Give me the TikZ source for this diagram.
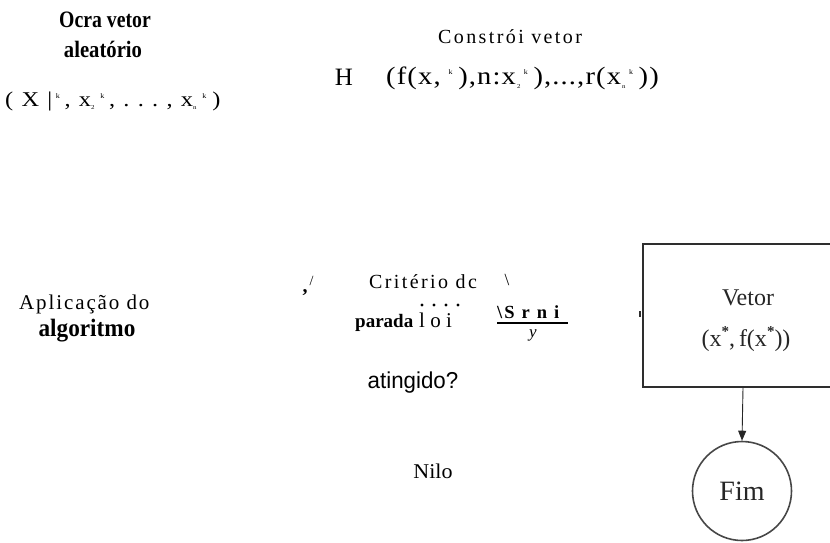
\documentclass[tikz,border=0pt]{standalone}
\usepackage{fontspec}
\setmainfont{Liberation Serif}
\newfontfamily\sansf{Liberation Sans}
\newfontfamily\lsA[LetterSpace=12]{Liberation Serif}
\newfontfamily\lsB[LetterSpace=9]{Liberation Serif}
\newfontfamily\lsC[LetterSpace=34]{Liberation Serif}
\newfontfamily\lsD[LetterSpace=4]{Liberation Serif}
\newfontfamily\lsE[LetterSpace=25]{Liberation Serif}
\usetikzlibrary{arrows.meta}
\newcommand{\upk}[3]{\hspace{#2}\raisebox{0.8ex}{\fontsize{7}{7}\selectfont\rmfamily #1}\hspace{#3}}
\newcommand{\dnk}[3]{\hspace{#2}\raisebox{-0.35ex}{\fontsize{6}{6}\selectfont\rmfamily #1}\hspace{#3}}
\newcommand{\myast}{\raisebox{0.95ex}{\fontsize{15}{15}\selectfont\bfseries *}}
\tikzset{
  lbl/.style={inner sep=0pt},
  frame/.style={draw=black!82, line width=1.8pt},
  dot/.style={circle, fill=black, inner sep=0pt, minimum size=3.4pt},
}
\begin{document}
\begin{tikzpicture}[x=1pt,y=1pt]
\useasboundingbox (0,0) rectangle (830,-542);
\clip (0,0) rectangle (830,-542);
% top-left
\node[lbl, font={\fontsize{23.5}{23.5}\selectfont\bfseries}, xscale=0.84] (t1) at (105,-20) {Ocra vetor};
\node[lbl, font={\fontsize{23.5}{23.5}\selectfont\bfseries}, xscale=0.88] (t2) at (103,-49) {aleatório};
\node[lbl, anchor=west, xscale=1.16, font={\fontsize{21}{21}\selectfont\lsC}] (t3) at (5,-101) {(X|\upk{k}{3pt}{4pt},x\dnk{2}{0pt}{3pt}\upk{k}{2pt}{4pt},...,x\dnk{n}{0pt}{3pt}\upk{k}{2pt}{5pt})};
% top-right
\node[lbl, anchor=west, font={\fontsize{20}{20}\selectfont\lsA}] (c1) at (438,-37) {Constrói vetor};
\node[lbl, font={\fontsize{25}{25}\selectfont}] (h) at (344,-77) {H};
\node[lbl, anchor=west, xscale=1.14, font={\fontsize{25}{25}\selectfont\lsD}] (c2) at (386,-78) {(f(x,\upk{k}{7pt}{5pt}),n:x\dnk{2}{1pt}{3pt}\upk{k}{0pt}{5pt}),...,r(x\dnk{n}{1pt}{3pt}\upk{k}{0pt}{5pt}))};
% middle-left
\node[lbl, anchor=west, font={\fontsize{21}{21}\selectfont\lsB}] (a1) at (19,-304) {Aplicação do};
\node[lbl, font={\fontsize{25}{25}\selectfont\bfseries}, xscale=0.93] (a2) at (87,-331) {algoritmo};
% decision fragments
\node[lbl, font={\fontsize{20}{20}\selectfont}] (q0) at (308,-286) {\textbf{,}\hspace{2pt}\raisebox{0.7ex}{\fontsize{14}{14}\selectfont /}};
\node[lbl, anchor=west, font={\fontsize{20}{20}\selectfont\lsA}] (q1) at (369,-282) {Critério dc};
\node[dot] (d1) at (422,-305) {};
\node[dot] (d2) at (434,-305) {};
\node[dot] (d3) at (446,-305) {};
\node[dot] (d4) at (458,-305) {};
\node[lbl, anchor=base west, font={\fontsize{19}{19}\selectfont\bfseries}] (q3) at (355,-327) {parada};
\node[lbl, anchor=base west, font={\fontsize{21}{21}\selectfont\lsE}] (q3b) at (419,-327) {loi};
\node[lbl, font={\fontsize{17}{17}\selectfont}] (q4) at (507,-280) {\textbackslash};
\node[lbl, anchor=base west, font={\fontsize{18.5}{18.5}\selectfont\bfseries}] (s1) at (497,-318) {\textbackslash\hspace{2pt}S\hspace{7pt}r\hspace{7pt}n\hspace{7pt}i};
\draw[line width=2.6pt] (s1.base west) ++(0,-5) coordinate (u1) -- ++(71,0) coordinate (u2);
\node[lbl, font={\fontsize{17}{17}\selectfont\itshape}] (s2) at (533,-335) {y};
\node[lbl, font={\fontsize{23}{23}\selectfont\sansf}, xscale=0.97] (q5) at (413,-383) {atingido?};
\node[lbl, font={\fontsize{21}{21}\selectfont}, xscale=1.05] (no) at (433,-471) {Nilo};
% result box and end
\node[frame, rectangle, minimum width=200, minimum height=143, inner sep=0pt] (box) at (743,-315.5) {};
\draw[line width=1.8pt, black!82] (box.west) ++(-2,-1) coordinate (tk1) -- ++(0,6) coordinate (tk2);
\node[lbl, font={\fontsize{24}{24}\selectfont}, text=black!85] (v1) at (748,-298) {Vetor};
\node[lbl, font={\fontsize{24}{24}\selectfont}, text=black!85] (v2) at (746,-339) {(x\myast,\,f(x\myast))};
\node[draw=black!72, line width=1.6pt, circle, minimum size=99, inner sep=0pt, font={\fontsize{28}{28}\selectfont}, text=black!85] (fim) at (742,-491) {Fim};
\draw[black!85, line width=0.9pt, -{Triangle[length=10pt,width=8pt]}] (box.south) -- (fim.north);
\end{tikzpicture}
\end{document}
